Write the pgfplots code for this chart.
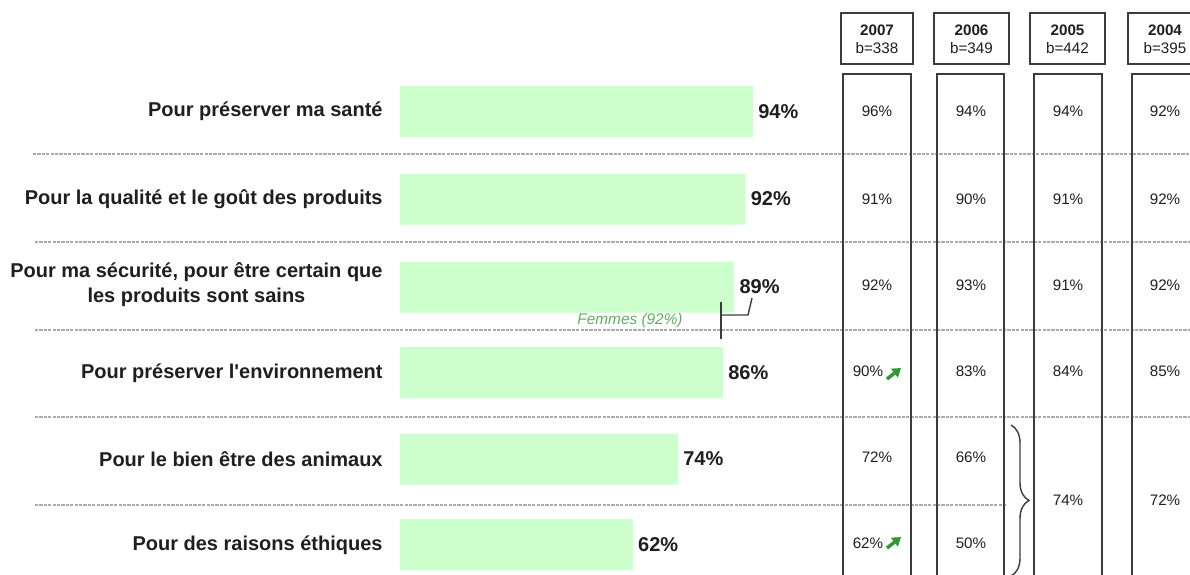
\documentclass[border=0pt]{standalone}
\usepackage{pgfplots}
\pgfplotsset{compat=1.18}
\usepackage{fontspec}
\setmainfont{Liberation Sans}
\usetikzlibrary{arrows.meta,decorations.pathreplacing}
\definecolor{barcol}{HTML}{CCFFCC}
\definecolor{femcol}{HTML}{5FAF5F}
\definecolor{arrcol}{HTML}{2E9A2E}
\definecolor{boxcol}{HTML}{3C3C3C}
\definecolor{sepcol}{HTML}{ABABAB}
\newcommand\X[1]{\fpeval{(#1-400)/3.755}}
\newcommand\lab{\fontsize{10}{12.5}\selectfont\bfseries}
\newcommand\tab{\fontsize{7.6}{9}\selectfont}
\tikzset{
  sep/.style={draw=sepcol, line width=0.6pt, dash pattern=on 1.6pt off 0.6pt},
  box/.style={draw=boxcol, line width=0.95pt},
}
\begin{document}
\begin{tikzpicture}
\begin{axis}[scale only axis, width=595pt, height=287pt,
  xmin=-106.525, xmax=210.386, ymin=0, ymax=574, y dir=reverse,
  axis lines=none, clip=false,
  xbar, bar width=51,
  point meta=x,
  /pgf/number format/assume math mode=true,
  nodes near coords={\pgfmathprintnumber{\pgfplotspointmeta}\%},
  every node near coord/.append style={font=\lab, anchor=west, inner sep=1pt, xshift=1.5pt, text=black!88},
  ]
\addplot[fill=barcol, draw=none] coordinates {(94,111.5) (92,199) (89,287) (86,372.5) (74,459) (62,544.5)};

% separators
\draw[sep] (axis cs:\X{33},154) -- (axis cs:\X{1190},154);
\draw[sep] (axis cs:\X{35},242) -- (axis cs:\X{1190},242);
\draw[sep] (axis cs:\X{35},330) -- (axis cs:\X{1190},330);
\draw[sep] (axis cs:\X{35},417) -- (axis cs:\X{1190},417);
\draw[sep] (axis cs:\X{35},505) -- (axis cs:\X{1007},505);

% row labels
\node[anchor=east, font=\lab, text=black!88, inner sep=0pt] at (axis cs:\X{383},111.5) {Pour préserver ma santé};
\node[anchor=east, font=\lab, text=black!88, inner sep=0pt] at (axis cs:\X{383},199) {Pour la qualité et le goût des produits};
\node[anchor=east, font=\lab, text=black!88, inner sep=0pt, align=center] at (axis cs:\X{383},285) {Pour ma sécurité, pour être certain que\\les produits sont sains};
\node[anchor=east, font=\lab, text=black!88, inner sep=0pt] at (axis cs:\X{383},373) {Pour préserver l\textquotesingle environnement};
\node[anchor=east, font=\lab, text=black!88, inner sep=0pt] at (axis cs:\X{383},459) {Pour le bien être des animaux};
\node[anchor=east, font=\lab, text=black!88, inner sep=0pt] at (axis cs:\X{383},545) {Pour des raisons éthiques};

% Femmes annotation
\draw[boxcol, line width=0.7pt] (axis cs:\X{721},302) -- (axis cs:\X{721},339);
\draw[boxcol, line width=0.7pt] (axis cs:\X{721},315) -- (axis cs:\X{748},315) -- (axis cs:\X{752},298);
\node[font=\fontsize{7.7}{9}\selectfont\itshape, text=femcol, inner sep=0pt] at (axis cs:\X{630},321) {Femmes (92\%)};

% header boxes
\draw[box] (axis cs:\X{841},13) rectangle (axis cs:\X{913},64);
\draw[box] (axis cs:\X{934},13) rectangle (axis cs:\X{1009},64);
\draw[box] (axis cs:\X{1030},13) rectangle (axis cs:\X{1105},64);
\draw[box] (axis cs:\X{1190},13) -- (axis cs:\X{1128},13) -- (axis cs:\X{1128},64) -- (axis cs:\X{1190},64);
\node[align=center, font=\tab, inner sep=0pt, text=black!88] at (axis cs:\X{877},39) {\textbf{2007}\\b=338};
\node[align=center, font=\tab, inner sep=0pt, text=black!88] at (axis cs:\X{971.5},39) {\textbf{2006}\\b=349};
\node[align=center, font=\tab, inner sep=0pt, text=black!88] at (axis cs:\X{1067.5},39) {\textbf{2005}\\b=442};
\node[align=center, font=\tab, inner sep=0pt, text=black!88] at (axis cs:\X{1165},39) {\textbf{2004}\\b=395};

% body columns
\draw[box] (axis cs:\X{843},580) -- (axis cs:\X{843},74) -- (axis cs:\X{911},74) -- (axis cs:\X{911},580);
\draw[box] (axis cs:\X{937},580) -- (axis cs:\X{937},74) -- (axis cs:\X{1004},74) -- (axis cs:\X{1004},580);
\draw[box] (axis cs:\X{1034},580) -- (axis cs:\X{1034},74) -- (axis cs:\X{1102},74) -- (axis cs:\X{1102},580);
\draw[box] (axis cs:\X{1132},580) -- (axis cs:\X{1132},74) -- (axis cs:\X{1190},74);

% table values
\node[font=\tab, text=black!88] at (axis cs:\X{877},111) {96\%};
\node[font=\tab, text=black!88] at (axis cs:\X{971},111) {94\%};
\node[font=\tab, text=black!88] at (axis cs:\X{1068},111) {94\%};
\node[font=\tab, text=black!88] at (axis cs:\X{1165},111) {92\%};
\node[font=\tab, text=black!88] at (axis cs:\X{877},199) {91\%};
\node[font=\tab, text=black!88] at (axis cs:\X{971},199) {90\%};
\node[font=\tab, text=black!88] at (axis cs:\X{1068},199) {91\%};
\node[font=\tab, text=black!88] at (axis cs:\X{1165},199) {92\%};
\node[font=\tab, text=black!88] at (axis cs:\X{877},285) {92\%};
\node[font=\tab, text=black!88] at (axis cs:\X{971},285) {93\%};
\node[font=\tab, text=black!88] at (axis cs:\X{1068},285) {91\%};
\node[font=\tab, text=black!88] at (axis cs:\X{1165},285) {92\%};
\node[font=\tab, text=black!88] at (axis cs:\X{868},371) {90\%};
\node[font=\tab, text=black!88] at (axis cs:\X{971},371) {83\%};
\node[font=\tab, text=black!88] at (axis cs:\X{1068},371) {84\%};
\node[font=\tab, text=black!88] at (axis cs:\X{1165},371) {85\%};
\node[font=\tab, text=black!88] at (axis cs:\X{877},457) {72\%};
\node[font=\tab, text=black!88] at (axis cs:\X{971},457) {66\%};
\node[font=\tab, text=black!88] at (axis cs:\X{868},543) {62\%};
\node[font=\tab, text=black!88] at (axis cs:\X{971},543) {50\%};
\node[font=\tab, text=black!88] at (axis cs:\X{1068},500) {74\%};
\node[font=\tab, text=black!88] at (axis cs:\X{1165},500) {72\%};

% green arrows
\draw[arrcol, line width=1.7pt, -{Triangle[length=4.2pt,width=5.4pt]}] (axis cs:\X{887},379) -- (axis cs:\X{901},368);
\draw[arrcol, line width=1.7pt, -{Triangle[length=4.2pt,width=5.4pt]}] (axis cs:\X{887},548) -- (axis cs:\X{901},537);

% brace
\draw[boxcol, line width=0.7pt, decorate, decoration={brace, amplitude=9pt}] (axis cs:\X{1011},425) -- (axis cs:\X{1011},576);
\end{axis}
\pgfresetboundingbox
\useasboundingbox (current axis.south west) rectangle (current axis.north east);
\end{tikzpicture}
\end{document}
